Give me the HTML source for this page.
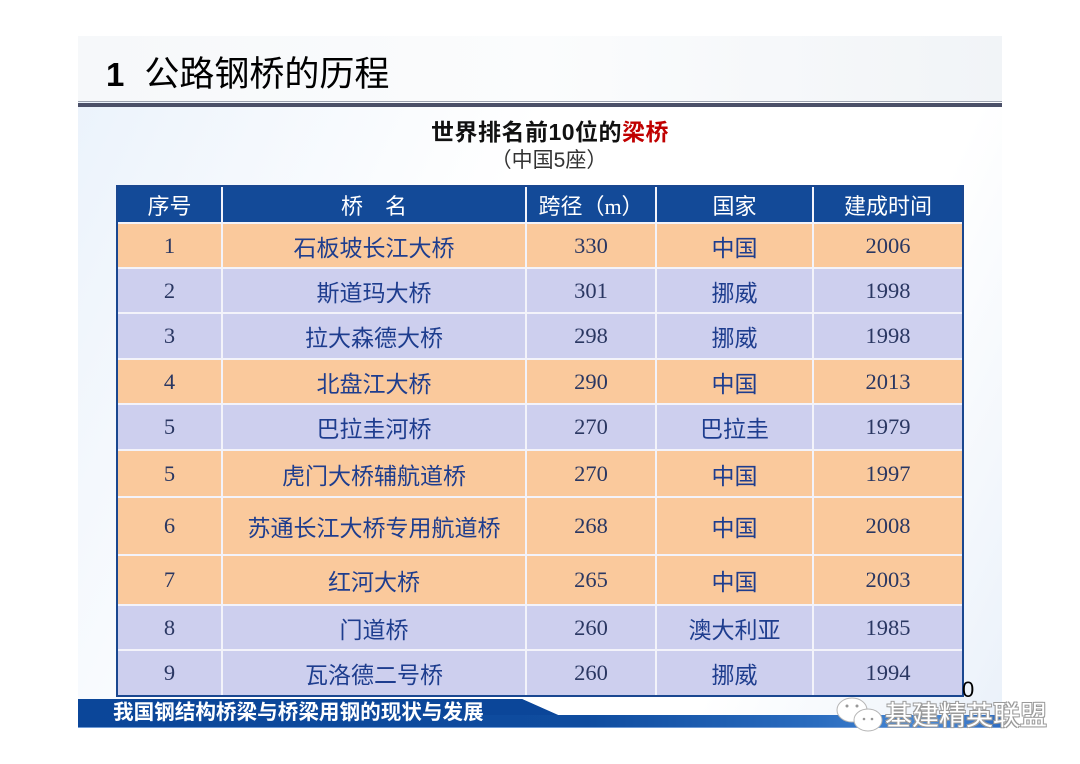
<!DOCTYPE html>
<html>
<head>
<meta charset="utf-8">
<style>
  html,body{margin:0;padding:0;background:#ffffff;}
  body{width:1080px;height:764px;position:relative;overflow:hidden;
       font-family:"Liberation Sans","Noto Sans CJK SC",sans-serif;}
  .slide{position:absolute;left:78px;top:36px;width:924px;height:692px;
         background:linear-gradient(115deg,#eaf2fb 0%,#f4f8fd 18%,#ffffff 40%,#ffffff 75%,#f3f7fc 90%,#eaf1fa 100%);}
  .titlebar{position:absolute;left:78px;top:36px;width:924px;height:65px;
         background:linear-gradient(90deg,#f6f8fa 0%,#fbfcfd 50%,#f1f4f7 100%);}
  .title{position:absolute;left:106px;top:52px;font-size:35px;color:#000;line-height:46px;white-space:nowrap;}
  .title .n{font-family:"Liberation Sans",sans-serif;font-weight:bold;margin-right:20px;font-size:33px;}
  .rule1{position:absolute;left:78px;top:101px;width:924px;height:1px;background:#9aa0ad;}
  .rule2{position:absolute;left:78px;top:103px;width:924px;height:4px;background:#4b5068;}
  .sub1{position:absolute;left:0;width:1100px;top:116px;text-align:center;font-size:23px;font-weight:bold;color:#111;line-height:32px;letter-spacing:0.5px;}
  .sub1 span{color:#c00000;}
  .sub2{position:absolute;left:0;width:1098px;top:146px;text-align:center;font-size:21px;color:#333;line-height:30px;}
  .tbl{position:absolute;left:116px;top:185px;width:844px;height:508px;border:2px solid #1a4790;
       background:#f3f3fa;display:grid;
       grid-template-columns:103px 302px 128px 155px 148px;
       grid-template-rows:35px 43px 43px 44px 43px 44px 45px 56px 48px 43px 44px;
       column-gap:2px;row-gap:2px;}
  .tbl div{display:flex;align-items:center;justify-content:center;font-size:22px;white-space:nowrap;}
  .h{background:#134a98;color:#fff;font-family:"Liberation Serif","Noto Sans CJK SC",sans-serif;}
  .o{background:#fac99c;}
  .l{background:#cdcfee;}
  .tbl .c{color:#1e3d8e;font-family:"Liberation Sans","Noto Sans CJK SC",sans-serif;font-size:23px;}
  .tbl .d{color:#2a3762;font-family:"Liberation Serif",serif;font-size:22.5px;}
  .pg{position:absolute;left:962px;top:677px;font-size:22px;color:#000;}
  .foottxt{position:absolute;left:113px;top:699px;font-size:20.6px;font-weight:bold;color:#fff;line-height:28px;white-space:nowrap;}
  .wm{position:absolute;left:885px;top:698px;font-size:27px;color:#fff;line-height:36px;white-space:nowrap;
      text-shadow:-1px -1px 0 #9a9a9a,1px -1px 0 #9a9a9a,-1px 1px 0 #9a9a9a,1px 1px 0 #9a9a9a;}
</style>
</head>
<body>
<div class="slide"></div>
<div class="titlebar"></div>
<div class="title"><span class="n">1</span>公路钢桥的历程</div>
<div class="rule1"></div>
<div class="rule2"></div>

<div class="sub1">世界排名前10位的<span>梁桥</span></div>
<div class="sub2">（中国5座）</div>

<div class="tbl">
  <div class="h">序号</div><div class="h">桥　名</div><div class="h">跨径（m）</div><div class="h">国家</div><div class="h">建成时间</div>

  <div class="o d">1</div><div class="o c">石板坡长江大桥</div><div class="o d">330</div><div class="o c">中国</div><div class="o d">2006</div>
  <div class="l d">2</div><div class="l c">斯道玛大桥</div><div class="l d">301</div><div class="l c">挪威</div><div class="l d">1998</div>
  <div class="l d">3</div><div class="l c">拉大森德大桥</div><div class="l d">298</div><div class="l c">挪威</div><div class="l d">1998</div>
  <div class="o d">4</div><div class="o c">北盘江大桥</div><div class="o d">290</div><div class="o c">中国</div><div class="o d">2013</div>
  <div class="l d">5</div><div class="l c">巴拉圭河桥</div><div class="l d">270</div><div class="l c">巴拉圭</div><div class="l d">1979</div>
  <div class="o d">5</div><div class="o c">虎门大桥辅航道桥</div><div class="o d">270</div><div class="o c">中国</div><div class="o d">1997</div>
  <div class="o d">6</div><div class="o c">苏通长江大桥专用航道桥</div><div class="o d">268</div><div class="o c">中国</div><div class="o d">2008</div>
  <div class="o d">7</div><div class="o c">红河大桥</div><div class="o d">265</div><div class="o c">中国</div><div class="o d">2003</div>
  <div class="l d">8</div><div class="l c">门道桥</div><div class="l d">260</div><div class="l c">澳大利亚</div><div class="l d">1985</div>
  <div class="l d">9</div><div class="l c">瓦洛德二号桥</div><div class="l d">260</div><div class="l c">挪威</div><div class="l d">1994</div>
</div>

<div class="pg">0</div>

<svg style="position:absolute;left:0;top:0" width="1080" height="764">
  <defs>
    <linearGradient id="fb" x1="0" y1="0" x2="1" y2="0">
      <stop offset="0" stop-color="#0b4699"/>
      <stop offset="0.55" stop-color="#0f4c9f"/>
      <stop offset="0.8" stop-color="#2a6cbf"/>
      <stop offset="0.92" stop-color="#4a8ad6"/>
      <stop offset="1" stop-color="#2f6cc0"/>
    </linearGradient>
  </defs>
  <polygon points="78,699 522,699 558,715 1002,715 1002,727 78,727" fill="url(#fb)"/>
  <polygon points="78,699 522,699 558,715 78,715" fill="#0b4699"/>
  <line x1="78" y1="727.5" x2="1002" y2="727.5" stroke="#6f9bd6" stroke-width="1"/>
  <ellipse cx="852" cy="710" rx="15" ry="12" fill="#ffffff" stroke="#b5b5b5" stroke-width="1"/>
  <ellipse cx="868" cy="720" rx="14" ry="11" fill="#ffffff" stroke="#b5b5b5" stroke-width="1"/>
  <circle cx="847" cy="706" r="1.5" fill="#999"/>
  <circle cx="857" cy="706" r="1.5" fill="#999"/>
  <circle cx="864" cy="719" r="1.3" fill="#999"/>
  <circle cx="872" cy="719" r="1.3" fill="#999"/>
</svg>

<div class="foottxt">我国钢结构桥梁与桥梁用钢的现状与发展</div>
<div class="wm">基建精英联盟</div>
</body>
</html>
